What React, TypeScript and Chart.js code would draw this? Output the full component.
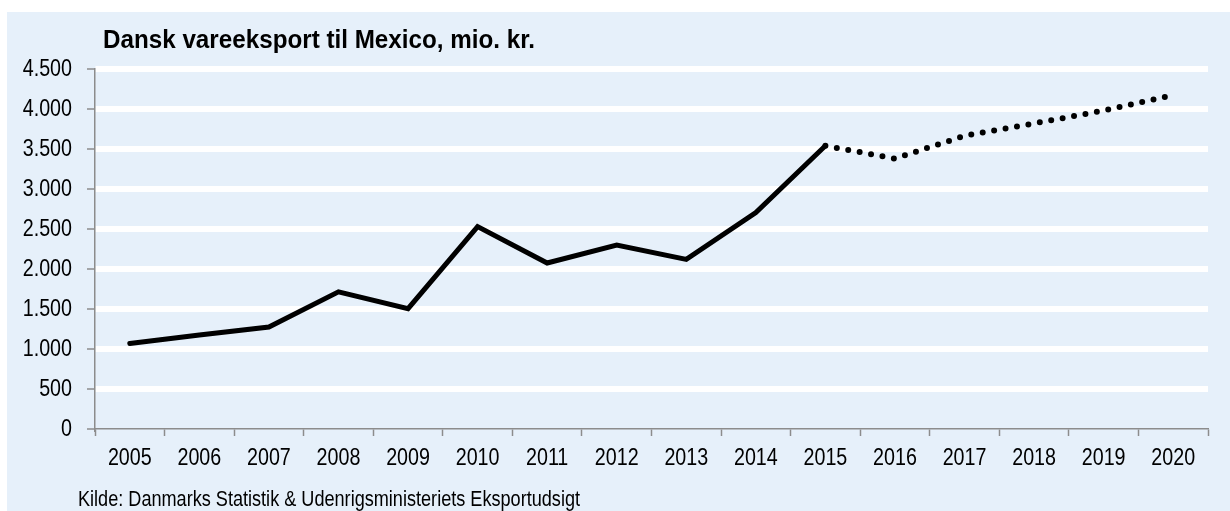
import React, { useEffect, useRef } from "react";
import { Chart, registerables } from "chart.js";

Chart.register(...registerables);

const TITLE = "Dansk vareeksport til Mexico, mio. kr.";
const SOURCE = "Kilde: Danmarks Statistik & Udenrigsministeriets Eksportudsigt";

const years = [
  "2005", "2006", "2007", "2008", "2009", "2010", "2011", "2012",
  "2013", "2014", "2015", "2016", "2017", "2018", "2019", "2020",
];
const exportValues = [
  1070, 1175, 1275, 1715, 1505, 2530, 2075, 2300,
  2120, 2705, 3540, 3380, 3665, 3820, 3980, 4175,
];
// index where the forecast (dotted) part begins
const forecastFrom = 10;

const yMin = 0;
const yMax = 4500;
const yStep = 500;

const FONT = '"Liberation Sans", Arial, sans-serif';
const AXIS_GRAY = "#8c8c8c";
const CONDENSE = 0.82;

const fmt = (v: number) => String(v).replace(/\B(?=(\d{3})+(?!\d))/g, ".");

const textPlugin = {
  id: "texts",
  afterDraw(chart: any) {
    const ctx = chart.ctx;
    const raw = (ctx as any).__rawFillText || ctx.fillText.bind(ctx);
    ctx.save();
    ctx.fillStyle = "#000";
    ctx.textBaseline = "alphabetic";
    ctx.textAlign = "left";
    ctx.font = `bold 25px ${FONT}`;
    raw(TITLE, 96, 36, 432);
    ctx.font = `22px ${FONT}`;
    raw(SOURCE, 71, 494, 502);
    ctx.restore();
  },
};

export default function App() {
  const ref = useRef<HTMLCanvasElement | null>(null);

  useEffect(() => {
    if (!ref.current) return;
    const c2d = ref.current.getContext("2d") as any;
    if (c2d && !c2d.__rawFillText) {
      const raw = c2d.fillText.bind(c2d);
      c2d.__rawFillText = raw;
      // narrow (condensed) rendering of axis labels, like Arial Narrow
      c2d.fillText = (t: string, x: number, y: number, mw?: number) => {
        const w = c2d.measureText(t).width * CONDENSE;
        raw(t, x, y, mw !== undefined ? Math.min(mw, w) : w);
      };
    }
    const chart = new Chart(ref.current, {
      type: "line",
      data: {
        labels: years,
        datasets: [
          {
            label: "Vareeksport",
            data: exportValues,
            borderColor: "#000",
            backgroundColor: "#000",
            borderWidth: 5,
            pointRadius: 0,
            tension: 0,
            borderCapStyle: "round",
            borderJoinStyle: "miter",
            segment: {
              borderDash: (c: any) => (c.p0DataIndex >= forecastFrom ? [0, 11.6] : undefined),
              borderWidth: (c: any) => (c.p0DataIndex >= forecastFrom ? 6 : 5),
            },
          } as any,
        ],
      },
      options: {
        animation: false,
        responsive: true,
        maintainAspectRatio: false,
        layout: { padding: { top: 57, right: 22, bottom: 0, left: 0 } },
        plugins: {
          legend: { display: false },
          title: { display: false },
          tooltip: { enabled: false },
        },
        scales: {
          x: {
            type: "category",
            offset: true,
            afterFit: (s: any) => {
              s.height = 82;
            },
            grid: {
              display: true,
              offset: true,
              drawOnChartArea: false,
              drawTicks: true,
              tickLength: 7,
              tickColor: AXIS_GRAY,
              tickWidth: 1.5,
            },
            border: { display: true, color: AXIS_GRAY, width: 1.5 },
            ticks: {
              color: "#000",
              font: { family: FONT, size: 24 },
              padding: 8,
              maxRotation: 0,
              autoSkip: false,
            },
          },
          y: {
            min: yMin,
            max: yMax,
            afterFit: (s: any) => {
              s.width = 88;
            },
            grid: {
              color: (c: any) => (c.tick && c.tick.value === 0 ? "rgba(0,0,0,0)" : "#ffffff"),
              lineWidth: 6,
              drawTicks: true,
              tickLength: 8,
              tickColor: AXIS_GRAY,
              tickWidth: 1.5,
            },
            border: { display: true, color: AXIS_GRAY, width: 1.5 },
            ticks: {
              stepSize: yStep,
              color: "#000",
              font: { family: FONT, size: 24 },
              padding: 15,
              callback: (v: any) => fmt(Number(v)),
            },
          },
        },
      },
      plugins: [textPlugin],
    });
    return () => chart.destroy();
  }, []);

  return (
    <div
      style={{
        position: "absolute",
        left: 7,
        top: 12,
        width: 1223,
        height: 499,
        background: "#e6f0fa",
      }}
    >
      <canvas ref={ref} />
    </div>
  );
}
